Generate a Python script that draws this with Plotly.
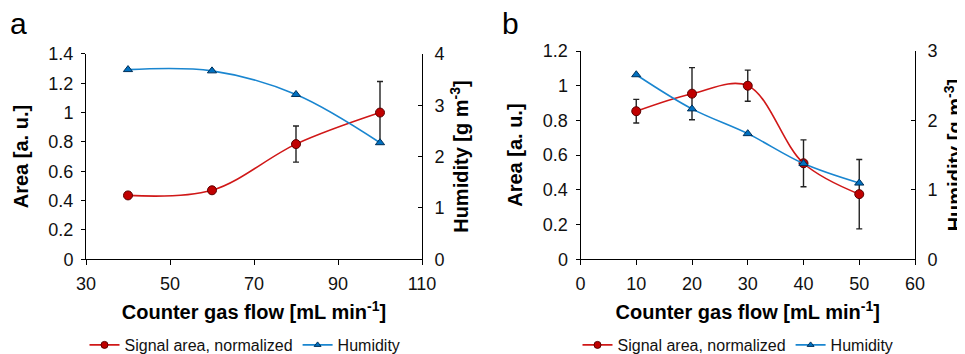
import plotly.graph_objects as go

# Panel a data
flow_a = [40, 60, 80, 100]
area_a = [0.435, 0.47, 0.785, 1.0]
area_a_err = [0.02, 0.01, 0.123, 0.212]
hum_a = [3.695, 3.67, 3.21, 2.27]

# Panel b data
flow_b = [10, 20, 30, 40, 50]
area_b = [0.853, 0.954, 1.0, 0.553, 0.375]
area_b_err = [0.068, 0.15, 0.09, 0.135, 0.2]
hum_b = [2.658, 2.166, 1.809, 1.378, 1.097]

x_ticks_a = [30, 50, 70, 90, 110]
x_ticks_b = [0, 10, 20, 30, 40, 50, 60]

RED_LINE = "#d01818"
RED_FILL = "#c00000"
BLUE_LINE = "#1a86d0"
BLUE_FILL = "#0070c0"
FONT = "Arial, Liberation Sans, sans-serif"

W, H = 965, 354

fig = go.Figure()

def add_panel(x, area, err, hum, xa, ya, ya2, legend):
    fig.add_trace(go.Scatter(
        x=x, y=area, mode="lines+markers", name="Signal area, normalized",
        line=dict(color=RED_LINE, width=1.6, shape="spline", smoothing=1.0),
        marker=dict(symbol="circle", size=9, color=RED_FILL, line=dict(color="#5a0000", width=1)),
        error_y=dict(type="data", array=err, visible=True, color="#222222", thickness=1.4, width=3),
        xaxis=xa, yaxis=ya, showlegend=False))
    fig.add_trace(go.Scatter(
        x=x, y=hum, mode="lines+markers", name="Humidity",
        line=dict(color=BLUE_LINE, width=1.6, shape="spline", smoothing=1.0),
        marker=dict(symbol="triangle-up", size=8, color=BLUE_FILL, line=dict(color="#00305a", width=1)),
        xaxis=xa, yaxis=ya2, showlegend=False))
    # legend entries (smaller symbols, like the reference)
    fig.add_trace(go.Scatter(
        x=[None], y=[None], mode="lines+markers", name="Signal area, normalized",
        line=dict(color=RED_LINE, width=1.6),
        marker=dict(symbol="circle", size=7, color=RED_FILL, line=dict(color="#5a0000", width=1)),
        xaxis=xa, yaxis=ya, legend=legend, showlegend=True))
    fig.add_trace(go.Scatter(
        x=[None], y=[None], mode="lines+markers", name="Humidity",
        line=dict(color=BLUE_LINE, width=1.6),
        marker=dict(symbol="triangle-up", size=6, color=BLUE_FILL, line=dict(color="#00305a", width=1)),
        xaxis=xa, yaxis=ya2, legend=legend, showlegend=True))

add_panel(flow_a, area_a, area_a_err, hum_a, "x", "y", "y2", "legend")
add_panel(flow_b, area_b, area_b_err, hum_b, "x2", "y3", "y4", "legend2")

tickfont = dict(family=FONT, size=18, color="#111111")
titlefont = dict(family=FONT, size=20, color="#000000")

def xaxis_cfg(domain, rng, ticks, anchor):
    return dict(domain=domain, range=rng, tickvals=ticks, ticktext=[str(t) for t in ticks],
                showline=True, linecolor="#000000", linewidth=1, ticks="outside", ticklen=5,
                tickcolor="#000000", showgrid=False, zeroline=False, tickfont=tickfont,
                ticklabelstandoff=3,
                anchor=anchor, automargin=False,
                title=dict(text="<b>Counter gas flow [mL min<sup>-1</sup>]</b>", font=titlefont, standoff=12))

def yaxis_cfg(domain, rng, dtick, anchor, title, side="left", overlaying=None, standoff=14):
    d = dict(domain=domain, range=rng, dtick=dtick, tick0=0,
             showline=True, linecolor="#000000", linewidth=1,
             ticks="outside" if side == "left" else "inside", ticklen=4,
             tickcolor="#000000", showgrid=False, zeroline=False, tickfont=tickfont,
             ticklabelstandoff=4 if side == "left" else 8,
             anchor=anchor, side=side, automargin=False,
             title=dict(text=title, font=titlefont, standoff=standoff))
    if overlaying:
        d["overlaying"] = overlaying
    return d

xa_dom = [78 / W, 414 / W]
xb_dom = [572.5 / W, 907 / W]
ya_dom = [1 - 257 / H, 1 - 47 / H]
yb_dom = [1 - 257 / H, 1 - 44 / H]

legend_font = dict(family=FONT, size=16, color="#111111")

fig.update_layout(
    width=W, height=H,
    margin=dict(l=0, r=0, t=0, b=0),
    paper_bgcolor="white", plot_bgcolor="white",
    font=dict(family=FONT, color="#111111"),
    xaxis=xaxis_cfg(xa_dom, [30, 110], x_ticks_a, "y"),
    yaxis=yaxis_cfg(ya_dom, [0, 1.4], 0.2, "x", "<b>Area [a. u.]</b>", standoff=14),
    yaxis2=yaxis_cfg(ya_dom, [0, 4], 1, "x", "<b>Humidity [g m<sup>-3</sup>]</b>", side="right",
                     overlaying="y", standoff=10),
    xaxis2=xaxis_cfg(xb_dom, [0, 60], x_ticks_b, "y3"),
    yaxis3=yaxis_cfg(yb_dom, [0, 1.2], 0.2, "x2", "<b>Area [a. u.]</b>", standoff=14),
    yaxis4=yaxis_cfg(yb_dom, [0, 3], 1, "x2", "<b>Humidity [g m<sup>-3</sup>]</b>", side="right",
                     overlaying="y3", standoff=11),
    legend=dict(orientation="h", x=237 / W, y=1 - 345 / H, xanchor="center", yanchor="middle",
                font=legend_font, bgcolor="rgba(0,0,0,0)", itemwidth=30, tracegroupgap=0),
    legend2=dict(orientation="h", x=730 / W, y=1 - 345 / H, xanchor="center", yanchor="middle",
                 font=legend_font, bgcolor="rgba(0,0,0,0)", itemwidth=30, tracegroupgap=0),
    annotations=[
        dict(text="a", x=0 / W, y=1 - 16 / H, xref="paper", yref="paper", xanchor="left", yanchor="middle",
             showarrow=False, font=dict(family=FONT, size=30, color="#000000")),
        dict(text="b", x=492 / W, y=1 - 16 / H, xref="paper", yref="paper", xanchor="left", yanchor="middle",
             showarrow=False, font=dict(family=FONT, size=30, color="#000000")),
    ],
)

fig.write_html("out.html")
